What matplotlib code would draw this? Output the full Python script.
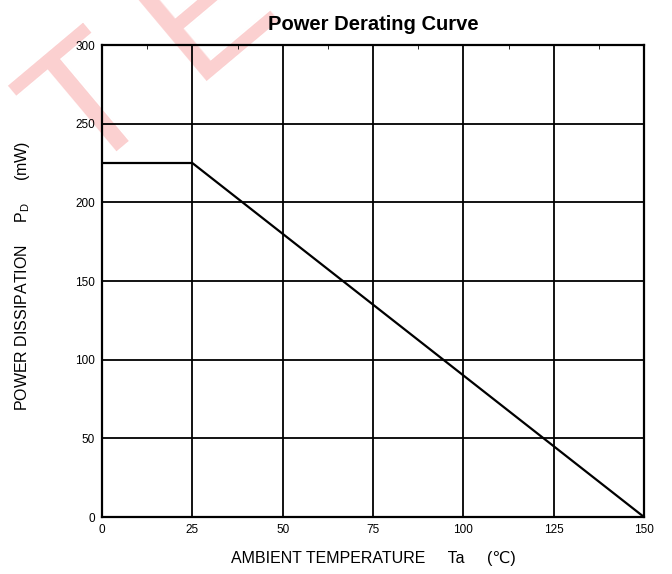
import numpy as np
import matplotlib
matplotlib.use('Agg')
import matplotlib.pyplot as plt

# Derating curve data
temp = [0, 25, 150]          # ambient temperature (C)
power = [225, 225, 0]        # power dissipation (mW)

x_ticks = [0, 25, 50, 75, 100, 125, 150]
y_ticks = [0, 50, 100, 150, 200, 250, 300]

plt.rcParams['font.family'] = ['Liberation Sans', 'DejaVu Sans']

fig = plt.figure(figsize=(6.72, 5.74), dpi=100)

# pink watermark in the top-left corner
wm = dict(fontsize=125, color='#fbd0d0', rotation=40, ha='center', va='center', zorder=-1)
fig.text(0.137, 0.81, 'T', **wm)
fig.text(0.31, 0.985, 'E', **wm)

ax = fig.add_axes([102/672, 57/574, 542/672, 472/574])
ax.patch.set_alpha(0)

ax.plot(temp, power, color='black', lw=1.6, zorder=3)

ax.set_xlim(0, 150)
ax.set_ylim(0, 300)
ax.set_xticks(x_ticks)
ax.set_yticks(y_ticks)
ax.set_xticklabels([str(v) for v in x_ticks], fontsize=8.5)
ax.set_yticklabels([str(v) for v in y_ticks], fontsize=8.5)
ax.tick_params(length=0, pad=5)
ax.set_xticks(np.arange(12.5, 150, 25), minor=True)
ax.tick_params(which='minor', axis='x', top=True, bottom=False, direction='in', length=3)

ax.grid(True, color='black', lw=1.3)
for s in ax.spines.values():
    s.set_linewidth(1.6)

ax.set_title('Power Derating Curve', fontsize=14.5, fontweight='bold', pad=11)
ax.set_xlabel('AMBIENT TEMPERATURE     Ta     (\u2103)', fontsize=11.5)
ax.set_ylabel('POWER DISSIPATION     P$_\\mathregular{D}$     (mW)', fontsize=11.5)
ax.xaxis.set_label_coords(0.5, -0.072)
ax.yaxis.set_label_coords(-0.13, 0.51)

plt.savefig('out.png', dpi=100)
